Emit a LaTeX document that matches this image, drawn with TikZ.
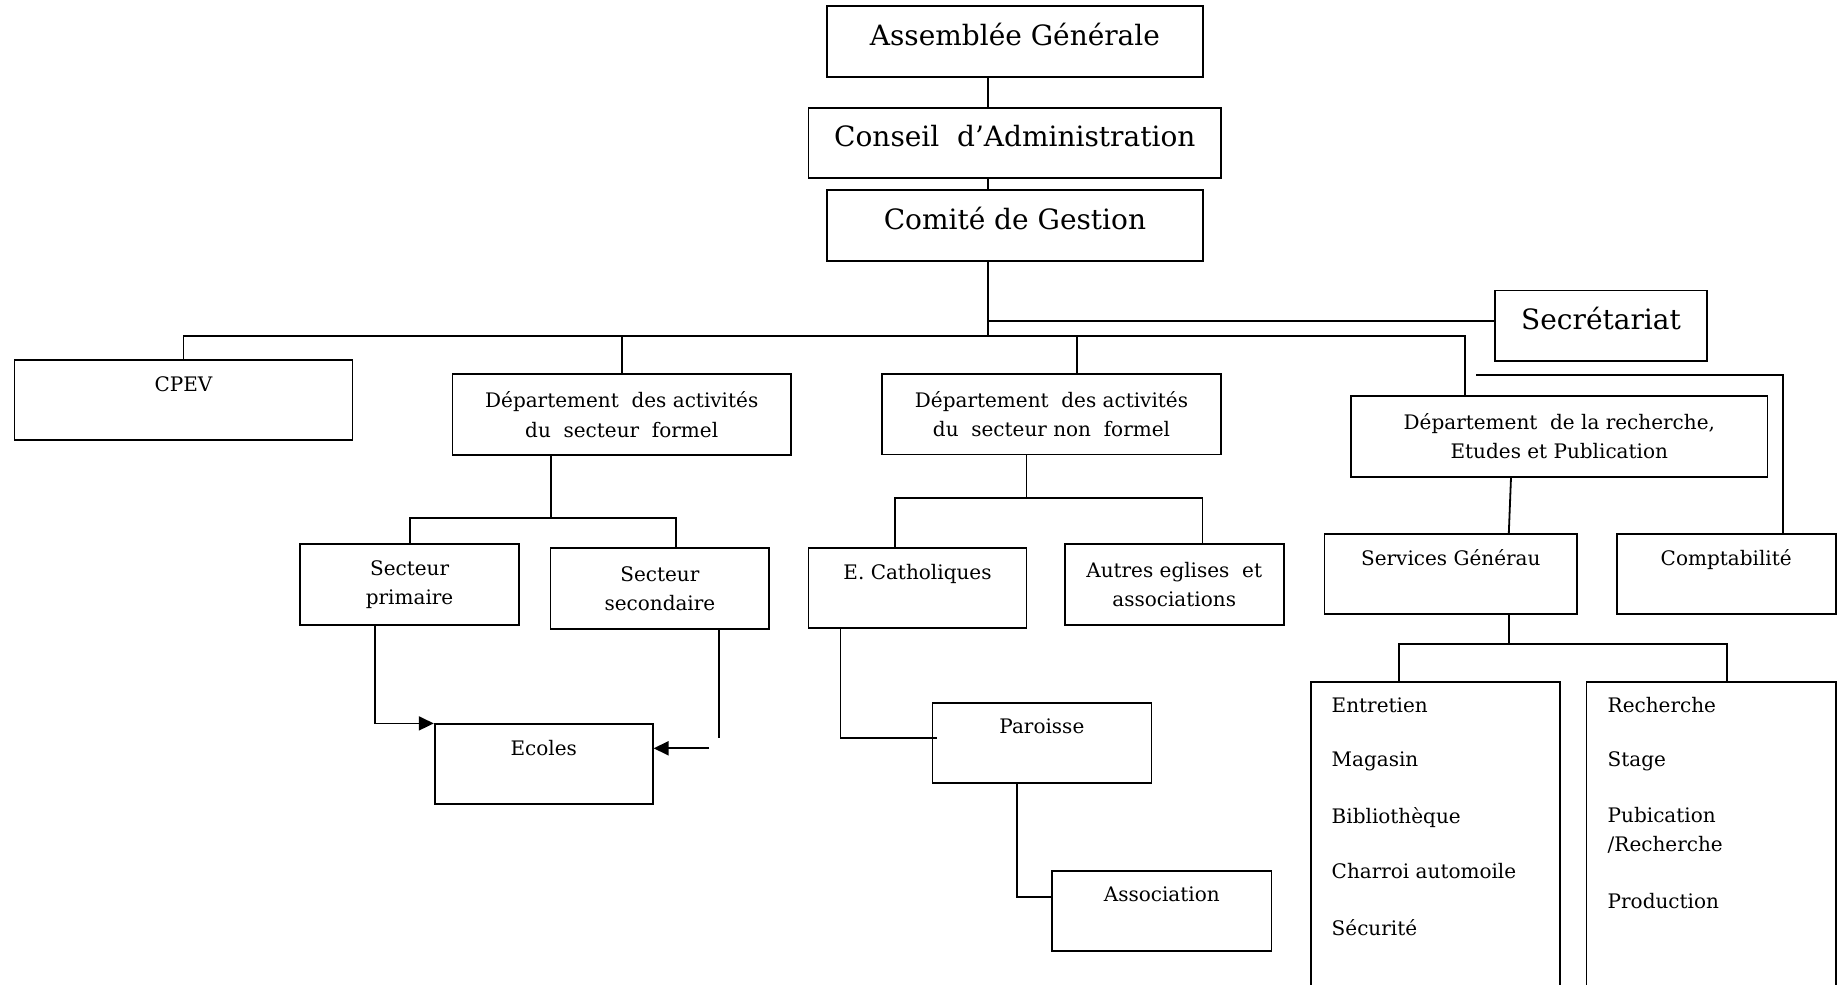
\documentclass[tikz,border=0pt]{standalone}
\usepackage{fontspec}
\setmainfont{DejaVu Serif}
\usetikzlibrary{arrows.meta}

\tikzset{
  box/.style={draw, line width=0.9pt, inner sep=0pt, align=center,
    font=\fontsize{10}{14.7}\selectfont},
  bigbox/.style={box, font=\fontsize{14}{16}\selectfont, text height=19.5pt, text depth=15.8pt},
  topbox/.style={box, text height=15.6pt, text depth=24.4pt},
  twobox/.style={box, minimum height=40.35pt},
  listbox/.style={box, anchor=north, minimum height=160pt},
  item/.style={anchor=base west, inner sep=0pt, font=\fontsize{10}{12}\selectfont},
  link/.style={line width=0.9pt},
  arr/.style={link, -{Triangle[length=7.5pt,width=7pt]}}
}

\begin{document}
\begin{tikzpicture}[x=0.5pt, y=-0.5pt]
                            \useasboundingbox (0,0) rectangle (1843,985);
                            \clip (0,0) rectangle (1843,985);
                            % direction
                            \node[bigbox, minimum width=188pt] (ag) at (1014.9,41.35) {Assemblée Générale};
                            \node[bigbox, minimum width=206.25pt] (ca) at (1014.8,143) {Conseil~ d’Administration};
                            \node[bigbox, minimum width=188pt] (cg) at (1014.9,225.35) {Comité de Gestion};
                            \node[bigbox, minimum width=106pt] (sec) at (1601,325.7) {Secrétariat};
                            % departements
                            \node[topbox, minimum width=169pt] (cpev) at (183.5,400.35) {CPEV};
                            \node[twobox, minimum width=169.3pt] (formel) at (621.7,414.7) {Département~ des activités\\du~ secteur~ formel};
                            \node[twobox, minimum width=169.5pt] (nonf) at (1051.5,414.2) {Département~ des activités\\du~ secteur non~ formel};
                            \node[twobox, minimum width=208.25pt] (rech) at (1559.3,436.3) {Département~ de la recherche,\\Etudes et Publication};
                            % niveau 3
                            \node[twobox, minimum width=109.4pt] (prim) at (409.6,584.5) {Secteur\\primaire};
                            \node[twobox, minimum width=109.35pt] (sec2) at (659.9,588.7) {Secteur\\secondaire};
                            \node[topbox, minimum width=109pt] (ecath) at (917.5,588.3) {E. Catholiques};
                            \node[twobox, minimum width=109.5pt] (autres) at (1174.2,584.7) {Autres eglises~ et\\associations};
                            \node[topbox, minimum width=126.25pt] (sg) at (1450.8,574.3) {Services Générau};
                            \node[topbox, minimum width=109.5pt] (cpt) at (1726.2,574.3) {Comptabilité};
                            \node[topbox, minimum width=109pt] (ecoles) at (543.7,764.3) {Ecoles};
                            \node[topbox, minimum width=109.5pt] (par) at (1041.9,742.7) {Paroisse};
                            \node[topbox, minimum width=109.75pt] (asso) at (1161.8,910.7) {Association};
                            \node[listbox, minimum width=124.3pt] (svcL) at (1435.3,680.7) {};
                            \node[listbox, minimum width=124.6pt] (svcR) at (1711.1,680.7) {};
                            \node[item] (en) at (1331.3,712.3) {Entretien};
                            \node[item] (ma) at (1331.3,766.7) {Magasin};
                            \node[item] (bi) at (1331.3,823.3) {Bibliothèque};
                            \node[item] (ch) at (1331.3,878.3) {Charroi automoile};
                            \node[item] (se) at (1331.3,935) {Sécurité};
                            \node[item] (re) at (1607.3,712.3) {Recherche};
                            \node[item] (st) at (1607.3,766.7) {Stage};
                            \node[item] (pu) at (1607.3,822.7) {Pubication};
                            \node[item] (pr) at (1607.3,851) {/Recherche};
                            \node[item] (po) at (1607.3,908.3) {Production};
                            % liaisons
                            \coordinate (trunk) at (988,336);
                            \draw[link] (ag.south -| trunk) -- (ca.north -| trunk);
                            \draw[link] (ca.south -| trunk) -- (cg.north -| trunk);
                            \draw[link] (cg.south -| trunk) -- (trunk);
                            \coordinate (secj) at (989,321);
                            \draw[link] (secj) -- (secj -| sec.west);
                            \coordinate (busnf) at (1077,336);
                            \coordinate (busre) at (1465,336);
                            \draw[link] (cpev.north) |- (busre) -- (busre |- rech.north);
                            \draw[link] (formel.north |- trunk) -- (formel.north);
                            \draw[link] (busnf) -- (busnf |- nonf.north);
                            \coordinate (cptj) at (1476,375);
                            \coordinate (cptk) at (1783,375);
                            \draw[link] (cptj) -- (cptk) -- (cptk |- cpt.north);
                            \draw[link] ([xshift=-24.15pt]rech.south) -- ([xshift=29pt]sg.north);
                            \coordinate (sgbus) at (1508.8,644);
                            \draw[link] ([xshift=29pt]sg.south) -- (sgbus);
                            \draw[link] ([xshift=-18.15pt]svcL.north) |- (sgbus) -| ([xshift=7.9pt]svcR.north);
                            \coordinate (fbus) at (551,518.3);
                            \draw[link] ([xshift=-35.35pt]formel.south) -- (fbus);
                            \draw[link] (prim.north) |- (fbus) -| ([xshift=8.15pt]sec2.north);
                            \draw[arr] ([xshift=-17.35pt]prim.south) |- (ecoles.north west);
                            \coordinate (secend) at (718.7,738.3);
                            \draw[link] (sec2.south -| secend) -- (secend);
                            \coordinate (arrst) at (709,748.3);
                            \draw[arr] (arrst) -- (arrst -| ecoles.east);
                            \coordinate (nbus) at (1026.4,498.3);
                            \draw[link] ([xshift=-12.55pt]nonf.south) -- (nbus);
                            \draw[link] ([xshift=-11.35pt]ecath.north) |- (nbus) -| ([xshift=14.1pt]autres.north);
                            \draw[link] ([xshift=-38.55pt]ecath.south) |- ([xshift=2.65pt,yshift=2.2pt]par.west);
                            \draw[link] ([xshift=-12.45pt]par.south) |- ([yshift=7pt]asso.west);
                        \end{tikzpicture}
\end{document}
